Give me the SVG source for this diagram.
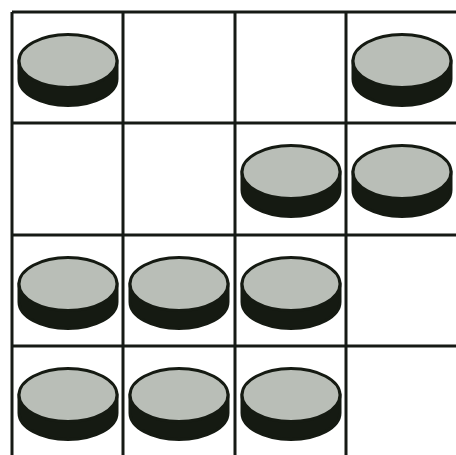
<svg xmlns="http://www.w3.org/2000/svg" width="456" height="455" viewBox="0 0 456 455">
<defs>
<style>
.grid{stroke:#161a15;stroke-width:3;fill:none}
.side{fill:#151a12;stroke:#151a12;stroke-width:3}
.face{fill:#b9beb7;stroke:#151a12;stroke-width:3}
</style>
<g id="coin">
<path class="side" d="M-49,0 L-49,18 A49,26.5 0 0 0 49,18 L49,0 Z"/>
<ellipse class="face" cx="0" cy="0" rx="49" ry="26.5"/>
</g>
</defs>
<rect width="456" height="455" fill="#ffffff"/>
<g id="grid">
<path class="grid" d="M12,12 H456 M12,123 H456 M12,235 H456 M12,346 H456 M12,12 V455 M123,12 V455 M235,12 V455 M346,12 V455"/>
</g>
<g id="coin-r0c0"><use href="#coin" x="68" y="61"/></g>
<g id="coin-r0c3"><use href="#coin" x="402" y="61"/></g>
<g id="coin-r1c2"><use href="#coin" x="291" y="172"/></g>
<g id="coin-r1c3"><use href="#coin" x="402" y="172"/></g>
<g id="coin-r2c0"><use href="#coin" x="68" y="284"/></g>
<g id="coin-r2c1"><use href="#coin" x="179" y="284"/></g>
<g id="coin-r2c2"><use href="#coin" x="291" y="284"/></g>
<g id="coin-r3c0"><use href="#coin" x="68" y="395"/></g>
<g id="coin-r3c1"><use href="#coin" x="179" y="395"/></g>
<g id="coin-r3c2"><use href="#coin" x="291" y="395"/></g>
</svg>
